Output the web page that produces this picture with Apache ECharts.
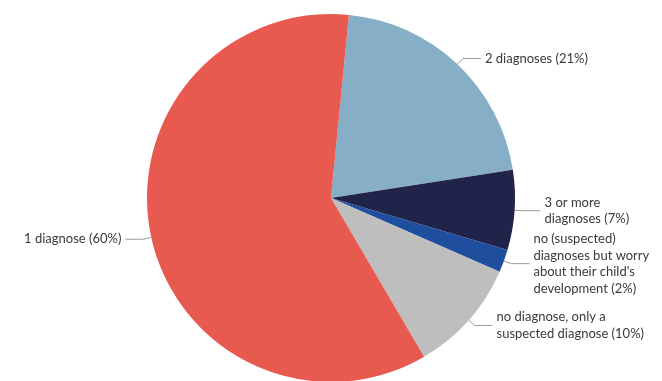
<!DOCTYPE html>
<html>
<head>
<meta charset="utf-8">
<script src="https://cdn.jsdelivr.net/npm/echarts@6/dist/echarts.min.js"></script>
<style>
  html, body { margin: 0; padding: 0; background: #fff; }
  #chart { width: 662px; height: 381px; }
</style>
</head>
<body>
<div id="chart"></div>
<script>
// 分类和数值 (percent)
const labels = [
    '2 diagnoses (21%)',
    '3 or more\ndiagnoses (7%)',
    'no (suspected)\ndiagnoses but worry\nabout their child\'s\ndevelopment (2%)',
    'no diagnose, only a\nsuspected diagnose (10%)',
    '1 diagnose (60%)'
]
const values = [21, 7, 2, 10, 60]
const colors = ['#86AEC6', '#20234A', '#1F4E9E', '#BEBEBE', '#E8594F']

const chart = echarts.init(document.getElementById('chart'))

const option = {
    animation: false,
    color: colors,
    series: [
        {
            type: 'pie',
            center: [331, 198],
            radius: [0, 184],
            startAngle: 84.4,
            clockwise: true,
            avoidLabelOverlap: false,
            data: labels.map((name, i) => ({name: name, value: values[i]})),
            itemStyle: {
                borderWidth: 0
            },
            label: {
                show: true,
                position: 'outside',
                formatter: '{b}',
                color: '#3a3a3a',
                fontFamily: 'Lato',
                fontSize: 13,
                lineHeight: 16.5,
                align: 'left',
                distanceToLabelLine: 4
            },
            labelLine: {
                show: true,
                length: 8,
                length2: 18,
                lineStyle: {
                    color: '#9a9a9a',
                    width: 1
                }
            }
        }
    ]
}
chart.setOption(option)
</script>
</body>
</html>
